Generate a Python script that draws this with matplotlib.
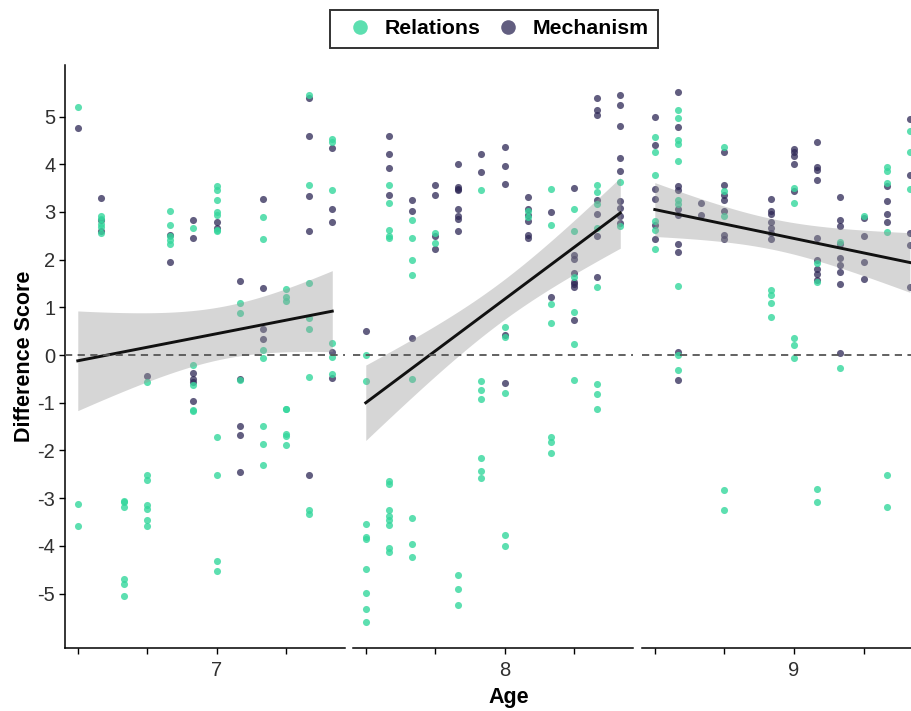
import numpy as np
import matplotlib
matplotlib.use('Agg')
import matplotlib.pyplot as plt
from matplotlib.lines import Line2D

plt.rcParams['font.family'] = ['Liberation Sans', 'DejaVu Sans']
plt.rcParams['axes.unicode_minus'] = False

# Data: difference scores per age-in-months column (column k -> start age + k/12)
ages = [7, 8, 9]
age_starts = [6.5, 7.5, 8.5]

rel_7 = {0: [5.21, -3.12, -3.59],
         1: [2.92, 2.85, 2.75, 2.68, 2.56],
         2: [-3.05, -3.07, -3.19, -4.70, -4.79, -5.04],
         3: [-0.56, -2.51, -2.62, -3.15, -3.22, -3.46, -3.59],
         4: [3.03, 2.73, 2.49, 2.42, 2.32],
         5: [2.67, -0.20, -0.62, -1.16, -1.17],
         6: [3.54, 3.47, 3.24, 3.00, 2.94, 2.62, 2.60, -1.72, -2.52, -4.31, -4.52],
         7: [1.09, 0.89, -0.53],
         8: [2.90, 2.43, 0.10, -0.06, -1.49, -1.87, -2.31],
         9: [1.39, 1.21, 1.14, -1.12, -1.13, -1.65, -1.70, -1.89],
         10: [5.45, 3.56, 1.51, 0.77, 0.54, -0.46, -3.24, -3.33],
         11: [4.52, 4.47, 3.45, 0.26, -0.04, -0.40]}
mech_7 = {0: [4.76],
          1: [3.29, 2.83, 2.60],
          3: [-0.43],
          4: [2.52, 1.96],
          5: [2.83, 2.45, -0.37, -0.51, -0.56, -0.96],
          6: [2.79, 2.67],
          7: [1.55, -0.51, -1.49, -1.67, -2.46],
          8: [3.27, 1.40, 0.55, 0.33],
          10: [5.39, 4.59, 3.33, 2.60, -2.51],
          11: [4.34, 3.07, 2.79, 0.06, -0.49]}

rel_8 = {0: [0.0, -0.55, -3.54, -3.81, -3.86, -4.49, -4.98, -5.33, -5.60],
         1: [3.56, 3.18, 2.62, 2.49, 2.46, -2.64, -2.71, -3.24, -3.38, -3.45, -3.57, -4.05, -4.12],
         2: [2.84, 2.46, 1.99, 1.68, -0.51, -3.42, -3.97, -4.24],
         3: [2.56, 2.35],
         4: [-4.61, -4.90, -5.23],
         5: [3.45, -0.54, -0.73, -0.92, -2.15, -2.43, -2.58],
         6: [0.58, 0.37, -0.80, -3.77, -4.01],
         7: [3.03, 2.90],
         8: [3.48, 2.72, 1.06, 0.67, -1.71, -1.83, -2.06],
         9: [3.06, 2.61, 1.63, 0.91, 0.24, -0.52],
         10: [3.57, 3.41, 3.16, 2.67, 1.42, -0.60, -0.81, -1.12],
         11: [3.62, 2.70]}
mech_8 = {0: [0.50],
          1: [4.59, 4.22, 3.93, 3.36],
          2: [3.24, 3.01, 0.36],
          3: [3.57, 3.36, 2.49, 2.23],
          4: [4.01, 3.52, 3.48, 3.45, 3.06, 2.91, 2.85, 2.60],
          5: [4.22, 3.83],
          6: [4.36, 3.96, 3.59, 0.43, -0.58],
          7: [3.31, 3.07, 2.94, 2.82, 2.52, 2.45],
          8: [3.00, 1.21],
          9: [3.50, 2.10, 2.02, 1.73, 1.54, 1.48, 1.42, 0.74],
          10: [5.39, 5.14, 5.04, 3.26, 2.96, 2.50, 1.63],
          11: [5.45, 5.25, 4.80, 4.14, 3.85, 3.22, 3.09, 2.92, 2.76]}

rel_9 = {0: [4.58, 4.26, 3.78, 2.81, 2.62, 2.22],
         1: [5.13, 4.96, 4.51, 4.42, 4.07, 3.25, 3.16, 1.45, 0.0, -0.31],
         3: [4.37, 3.44, 2.91, -2.83, -3.24],
         5: [1.37, 1.25, 1.09, 0.79],
         6: [3.50, 3.18, 0.36, 0.21, -0.07],
         7: [1.93, 1.53, -2.81, -3.07],
         8: [2.36, -0.28],
         9: [2.92],
         10: [3.95, 3.86, 3.60, 2.58, -2.51, -3.19],
         11: [4.70, 4.26, 3.48]}
mech_9 = {0: [4.99, 4.40, 3.48, 3.27, 2.73, 2.43],
          1: [5.51, 4.77, 3.54, 3.46, 3.07, 2.94, 2.32, 2.15, 0.07, -0.52],
          2: [3.18, 2.94],
          3: [4.25, 3.56, 3.35, 3.24, 3.02, 2.52, 2.43],
          5: [3.28, 3.01, 2.96, 2.78, 2.67, 2.55, 2.43],
          6: [4.31, 4.25, 4.17, 4.00, 3.44],
          7: [4.46, 3.94, 3.87, 3.68, 2.45, 1.99, 1.81, 1.70, 1.57],
          8: [3.32, 2.84, 2.70, 2.32, 2.04, 1.88, 1.74, 1.48, 0.05],
          9: [2.88, 2.49, 1.95, 1.60],
          10: [3.54, 3.22, 2.95, 2.79],
          11: [4.95, 3.78, 2.55, 2.30, 1.42]}

relations = [rel_7, rel_8, rel_9]
mechanism = [mech_7, mech_8, mech_9]

# linear trend per panel (value at first / last month)
fit_left = [-0.12, -1.00, 3.05]
fit_right = [0.92, 2.98, 1.94]
# half-width of the 95% band at left end, right end and narrowest point
band_left_hw = [1.045, 0.79, 0.565]
band_right_hw = [0.85, 0.74, 0.625]
band_min_hw = [0.55, 0.42, 0.32]

rel_color = '#35d79d'
mech_color = '#2e2856'


def to_xy(d, start):
    xs, ys = [], []
    for k, vals in d.items():
        for v in vals:
            xs.append(start + k / 12)
            ys.append(v)
    return np.array(xs), np.array(ys)


W, H = 911, 711
fig = plt.figure(figsize=(W / 100, H / 100), dpi=100)

# panel pixel boxes (left, right)
panel_px = [(65, 345), (353, 633), (642, 947)]
xlims = [(6.454, 7.4625), (7.454, 8.4625), (8.454, 9.55)]
top_px, bot_px = 65, 648
ylim = (-6.14, 6.08)

axes = []
for i, age in enumerate(ages):
    l, r = panel_px[i]
    ax = fig.add_axes([l / W, 1 - bot_px / H, (r - l) / W, (bot_px - top_px) / H])
    axes.append(ax)
    start = age_starts[i]

    mx, my = to_xy(mechanism[i], start)
    rx, ry = to_xy(relations[i], start)
    ax.scatter(mx, my, s=26, color=mech_color, alpha=0.75, linewidths=0, zorder=2)
    ax.scatter(rx, ry, s=26, color=rel_color, alpha=0.8, linewidths=0, zorder=2)

    # trend line and confidence band (hyperbolic shape of an lm band)
    x0, x1 = start, start + 11 / 12
    xg = np.linspace(x0, x1, 80)
    fit = fit_left[i] + (fit_right[i] - fit_left[i]) * (xg - x0) / (x1 - x0)
    a2 = band_min_hw[i] ** 2
    ratio = np.sqrt((band_left_hw[i] ** 2 - a2) / (band_right_hw[i] ** 2 - a2))
    xm = (x0 + ratio * x1) / (1 + ratio)
    B = (band_left_hw[i] ** 2 - a2) / (xm - x0) ** 2
    hw = np.sqrt(a2 + B * (xg - xm) ** 2)
    ax.fill_between(xg, fit - hw, fit + hw, color='#999999',
                    alpha=0.4, linewidth=0, zorder=3)
    ax.plot(xg, fit, color='#111111', lw=2.1, zorder=4)

    ax.axhline(0, color='#555555', lw=1.3, ls=(0, (4, 3)), zorder=5)

    ax.set_xlim(*xlims[i])
    ax.set_ylim(*ylim)
    ticks = [start, start + 0.25, start + 0.5, start + 0.75]
    ax.set_xticks(ticks)
    ax.set_xticklabels(['', '', str(age), ''])
    for sp in ['top', 'right']:
        ax.spines[sp].set_visible(False)
    ax.spines['bottom'].set_linewidth(1.1)
    ax.tick_params(axis='x', length=4, width=1.0, labelsize=14.5,
                   labelcolor='#303030', pad=5)
    if i == 0:
        ax.spines['left'].set_linewidth(1.1)
        ax.set_yticks(range(-5, 6))
        ax.tick_params(axis='y', length=4, width=1.0, labelsize=14.5,
                       labelcolor='#303030', pad=3)
    else:
        ax.spines['left'].set_visible(False)
        ax.set_yticks([])

# axis titles
fig.text(509 / W, 1 - 697 / H, 'Age', ha='center', va='center',
         fontsize=15.5, fontweight='bold')
fig.text(25 / W, 1 - 356 / H, 'Difference Score', ha='center', va='center',
         rotation=90, fontsize=15.5, fontweight='bold')

# legend on top
handles = [Line2D([], [], ls='', marker='o', markersize=10.5, color=rel_color,
                  alpha=0.8, markeredgewidth=0),
           Line2D([], [], ls='', marker='o', markersize=10.5, color=mech_color,
                  alpha=0.75, markeredgewidth=0)]
leg = fig.legend(handles, ['Relations', 'Mechanism'], loc='center',
                 bbox_to_anchor=(494 / W, 1 - 29 / H), ncol=2, frameon=True,
                 fancybox=False, handletextpad=0.2, columnspacing=0.3,
                 borderpad=0.45, handlelength=1.95,
                 prop={'size': 15.3, 'weight': 'bold'})
leg.get_frame().set_edgecolor('black')
leg.get_frame().set_linewidth(1.4)

fig.savefig('out.png', dpi=100)
